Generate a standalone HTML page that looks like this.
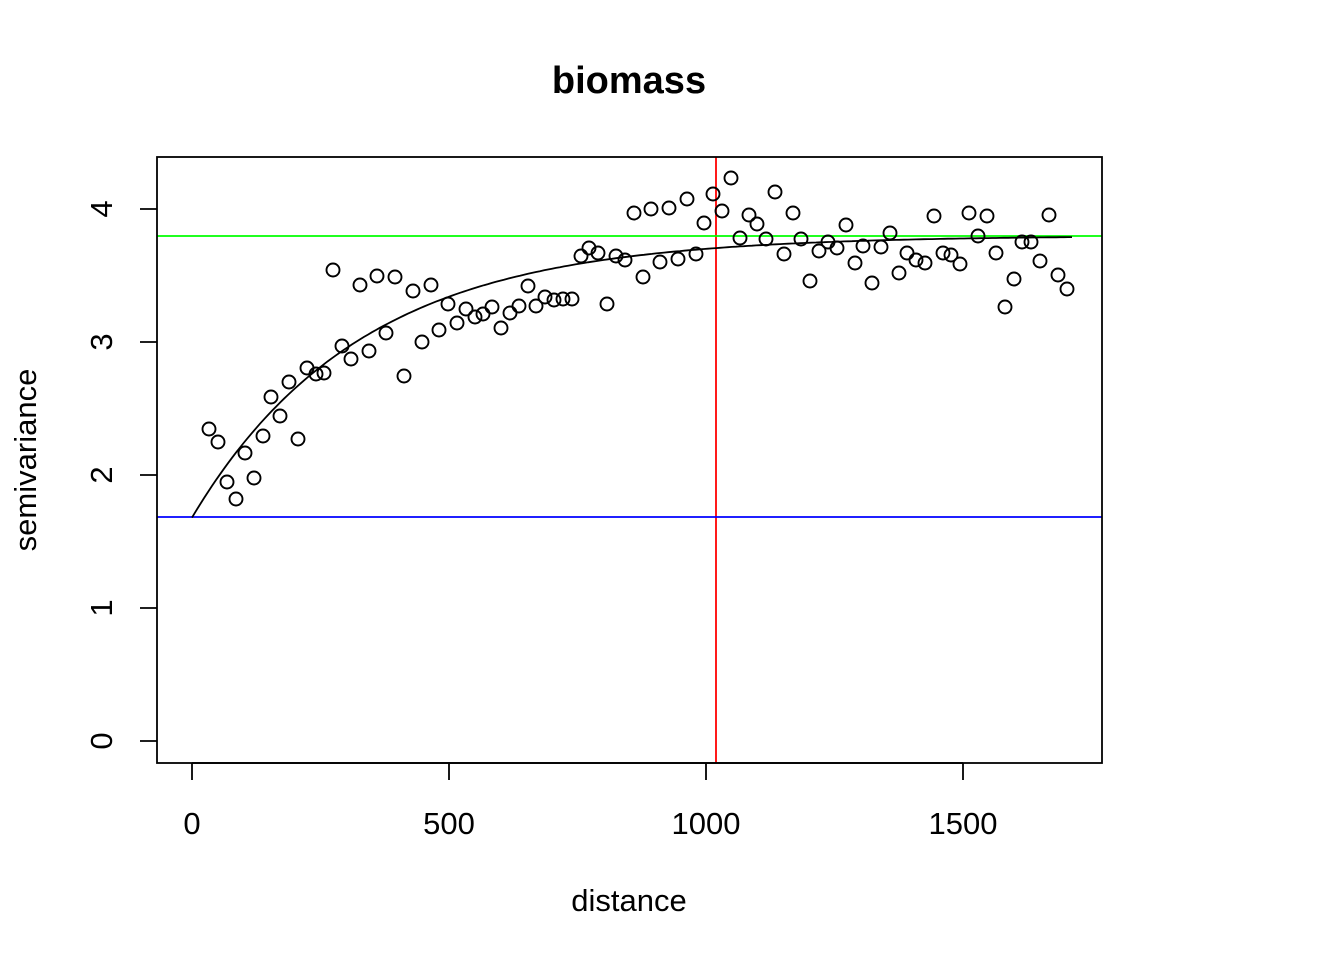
<!DOCTYPE html>
<html><head><meta charset="utf-8"><style>
html,body{margin:0;padding:0;background:#fff;}
svg text{font-family:"Liberation Sans",Arial,sans-serif;}
</style></head><body>
<svg id="s" width="1344" height="960" xmlns="http://www.w3.org/2000/svg">
<rect width="1344" height="960" fill="#fff"/>
<text x="629" y="93" text-anchor="middle" font-size="38" font-weight="bold">biomass</text>
<text x="629" y="911" text-anchor="middle" font-size="31">distance</text>
<text transform="translate(36,460) rotate(-90)" text-anchor="middle" font-size="31">semivariance</text>
<line x1="716" y1="157" x2="716" y2="763" stroke="#f00" stroke-width="1.8"/>
<line x1="157" y1="236" x2="1102" y2="236" stroke="#0f0" stroke-width="1.8"/>
<line x1="157" y1="517" x2="1102" y2="517" stroke="#00f" stroke-width="1.8"/>
<rect x="157" y="157" width="945" height="606" fill="none" stroke="#000" stroke-width="1.8"/>
<g stroke="#000" stroke-width="1.8">
<line x1="192" y1="763" x2="963" y2="763"/>
<line x1="192" y1="763" x2="192" y2="780"/><line x1="449" y1="763" x2="449" y2="780"/>
<line x1="706" y1="763" x2="706" y2="780"/><line x1="963" y1="763" x2="963" y2="780"/>
<line x1="140" y1="741" x2="157" y2="741"/><line x1="140" y1="608" x2="157" y2="608"/>
<line x1="140" y1="475" x2="157" y2="475"/><line x1="140" y1="342" x2="157" y2="342"/>
<line x1="140" y1="209" x2="157" y2="209"/>
</g>
<g font-size="31" text-anchor="middle">
<text x="192" y="834">0</text><text x="449" y="834">500</text><text x="706" y="834">1000</text><text x="963" y="834">1500</text>
<text transform="translate(112,741) rotate(-90)">0</text>
<text transform="translate(112,608) rotate(-90)">1</text>
<text transform="translate(112,475) rotate(-90)">2</text>
<text transform="translate(112,342) rotate(-90)">3</text>
<text transform="translate(112,209) rotate(-90)">4</text>
</g>
<path id="curve" fill="none" stroke="#000" stroke-width="1.8" d=""/>
<g id="pts" fill="none" stroke="#000" stroke-width="1.9"></g>
</svg>
<script>
var p=[[209,429],[218,442],[227,482],[236,499],[245,453],[254,478],[263,436],[271,397],[280,416],[289,382],[298,439],[307,368],[316,374],[324,373],[333,270],[342,346],[351,359],[360,285],[369,351],[377,276],[386,333],[395,277],[404,376],[413,291],[422,342],[431,285],[439,330],[448,304],[457,323],[466,309],[475,317],[483,314],[492,307],[501,328],[510,313],[519,306],[528,286],[536,306],[545,297],[554,300],[563,299],[572,299],[581,256],[589,248],[598,253],[607,304],[616,256],[625,260],[634,213],[643,277],[651,209],[660,262],[669,208],[678,259],[687,199],[696,254],[704,223],[713,194],[722,211],[731,178],[740,238],[749,215],[757,224],[766,239],[775,192],[784,254],[793,213],[801,239],[810,281],[819,251],[828,242],[837,248],[846,225],[855,263],[863,246],[872,283],[881,247],[890,233],[899,273],[907,253],[916,260],[925,263],[934,216],[943,253],[951,255],[960,264],[969,213],[978,236],[987,216],[996,253],[1005,307],[1014,279],[1022,242],[1031,242],[1040,261],[1049,215],[1058,275],[1067,289]];
var g=document.getElementById('pts'),h='';
p.forEach(function(q){h+='<circle cx="'+q[0]+'" cy="'+q[1]+'" r="6.5"/>';});
g.innerHTML=h;
var d='';
for(var x=192;x<=1072;x+=4){var dist=(x-192)/0.514;var v=3.8-2.12*Math.exp(-dist/327);var y=741-v*133;d+=(x==192?'M':'L')+x+' '+y.toFixed(1);}
document.getElementById('curve').setAttribute('d',d);
</script>
</body></html>
